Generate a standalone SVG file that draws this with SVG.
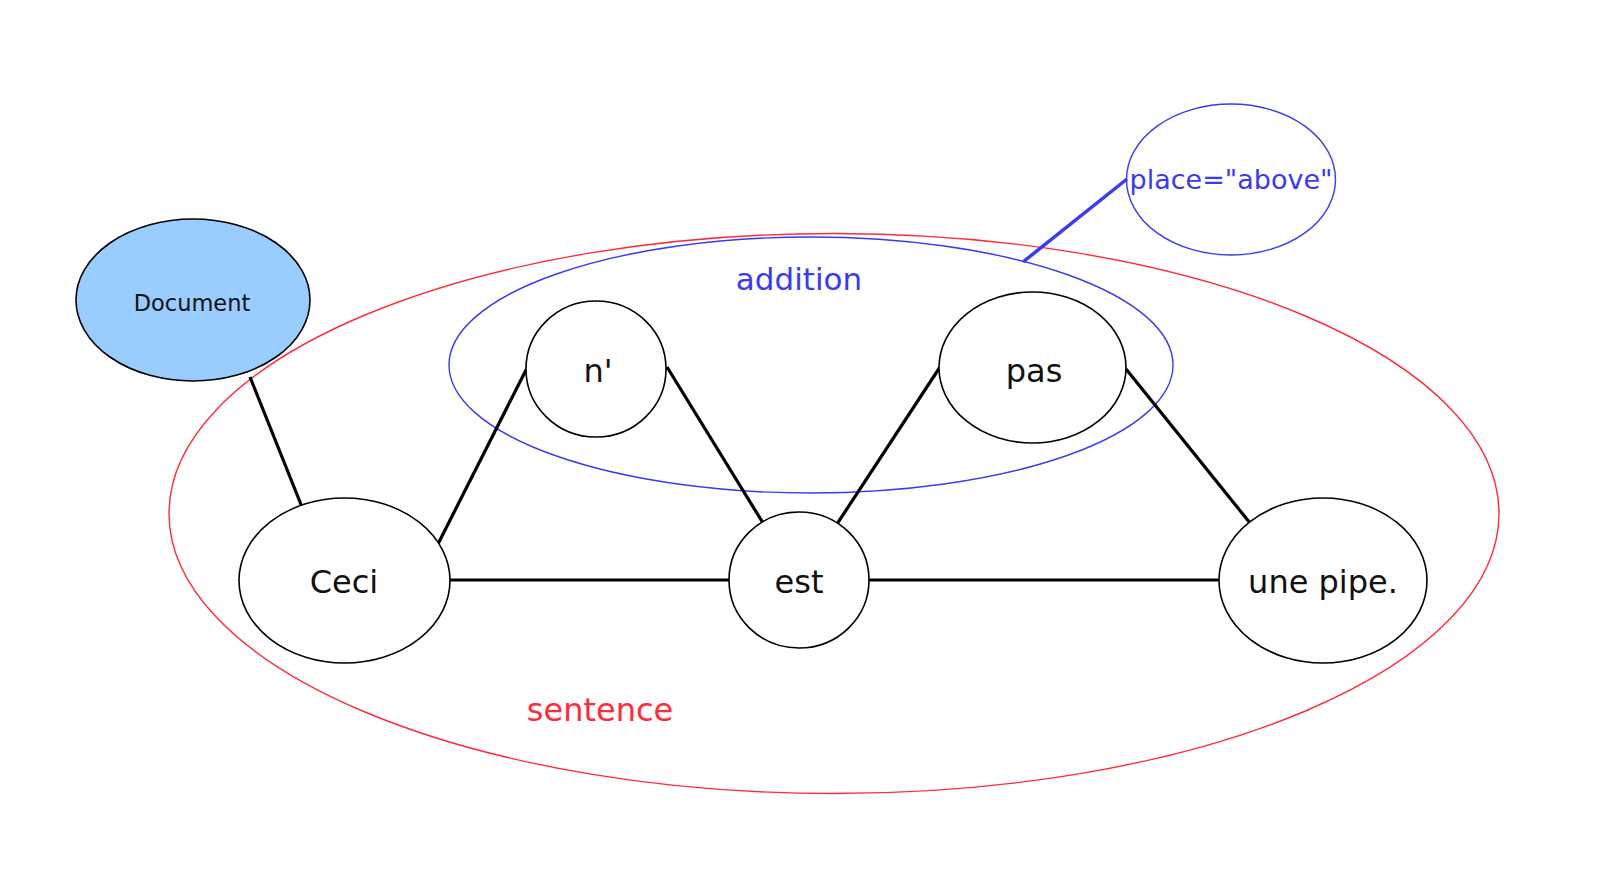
<svg xmlns="http://www.w3.org/2000/svg" width="1620" height="878" viewBox="0 0 1620 878">
<style>
.node{fill:#ffffff;stroke:#000000;stroke-width:1.6}
.lbl{font-family:"DejaVu Sans",Verdana,sans-serif;font-size:32px;fill:#111111;text-anchor:middle}
.edge{stroke:#000000;stroke-width:3.2;fill:none}
.grp{fill:none;stroke-width:1.4}
</style>
<rect width="1620" height="878" fill="#ffffff"/>
<g id="sentence">
<ellipse class="grp" cx="834" cy="513.5" rx="665" ry="280" stroke="#ff2a3a"/>
<text x="600" y="721" class="lbl" style="fill:#ff2a3a">sentence</text>
</g>
<g id="addition">
<ellipse class="grp" cx="811" cy="365" rx="362" ry="128" stroke="#3a3af0"/>
<text x="799" y="290" class="lbl" style="fill:#3a3af0;font-size:31px">addition</text>
</g>
<g id="connectors">
<line class="edge" x1="250" y1="377" x2="302" y2="507"/>
<line class="edge" x1="438" y1="544" x2="527" y2="368"/>
<line class="edge" x1="667" y1="367" x2="763" y2="523"/>
<line class="edge" x1="837" y1="524" x2="940" y2="367"/>
<line class="edge" x1="1126" y1="369" x2="1250" y2="523"/>
<line class="edge" x1="450" y1="580" x2="729" y2="580"/>
<line class="edge" x1="869" y1="580" x2="1219" y2="580"/>
<line x1="1023" y1="262" x2="1127" y2="179" stroke="#3a3af0" stroke-width="3.5"/>
</g>
<g id="document">
<ellipse cx="193" cy="300" rx="117" ry="81" fill="#99ccff" stroke="#000000" stroke-width="1.6"/>
<text x="192" y="311" class="lbl" style="font-size:22.5px">Document</text>
</g>
<g id="place">
<ellipse cx="1231" cy="179.5" rx="104.5" ry="75.5" fill="none" stroke="#3a3af0" stroke-width="1.4"/>
<text x="1231" y="189" class="lbl" style="fill:#3a3af0;font-size:27px">place="above"</text>
</g>
<g id="n">
<ellipse class="node" cx="596" cy="369" rx="70" ry="68"/>
<text x="598" y="382" class="lbl">n'</text>
</g>
<g id="pas">
<ellipse class="node" cx="1032.5" cy="367.5" rx="93.5" ry="75.5"/>
<text x="1034" y="382" class="lbl">pas</text>
</g>
<g id="ceci">
<ellipse class="node" cx="344.5" cy="580.5" rx="105.5" ry="82.5"/>
<text x="344" y="593" class="lbl">Ceci</text>
</g>
<g id="est">
<ellipse class="node" cx="799" cy="580" rx="70" ry="68"/>
<text x="799" y="593" class="lbl">est</text>
</g>
<g id="une">
<ellipse class="node" cx="1323" cy="580.5" rx="104" ry="82.5"/>
<text x="1323" y="593" class="lbl">une pipe.</text>
</g>
</svg>
